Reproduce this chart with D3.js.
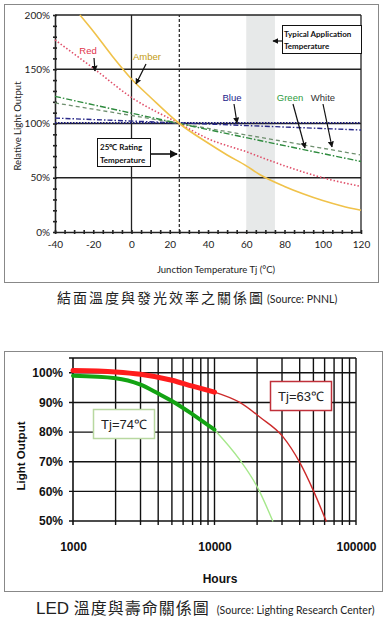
<!doctype html>
<html>
  <head>
    <meta charset="utf-8">
    <title>LED temperature charts</title>
    <script src="https://cdnjs.cloudflare.com/ajax/libs/d3/7.8.5/d3.min.js"></script>
    <style>
      body { margin: 0; background: #fff; }
      svg { display: block; }
      .lato { font-family: Lato, "Open Sans", sans-serif; }
      .narrow { font-family: "Liberation Sans Narrow", "Liberation Sans", Arial, sans-serif; font-weight: bold; }
      .cjk { font-family: "Noto Sans CJK TC", "Noto Sans CJK SC", sans-serif; }
    </style>
  </head>
  <body>
    <div id="chart"></div>
    <script>
      // ---- top chart data: relative light output (%) vs junction temperature (°C)
      const tempTicks = [-40, -20, 0, 20, 40, 60, 80, 100, 120];
      const pctTicks = [0, 50, 100, 150, 200];
      const amber = [[-27,200],[-20,185],[-10,162],[0,141],[10,124],[25,100],[40,82],[50,71],[60,61],[67,53],[80,42],[90,35],[100,29],[110,24],[120,20]];
      const red = [[-40,177],[-20,151],[0,124],[25,100],[40,86],[60,74],[80,61],[100,50],[120,42]];
      const green = [[-40,125],[25,100],[120,65]];
      const white = [[-40,119],[25,100],[120,71]];
      const blueDot = [[-40,100.5],[120,100.5]];
      const blueDash = [[-40,105],[120,94]];
      const appBand = [60, 75];
      const ratingTemp = 25;

      // ---- bottom chart data: light output (%) vs hours
      const hourTicks = [1000, 10000, 100000];
      const outTicks = [50, 60, 70, 80, 90, 100];
      const redThick = [[1000,100.8],[2000,100.3],[3000,99.5],[5000,97.5],[7000,95.5],[10000,93.5]];
      const redThin = [[10000,93.5],[15100,90],[21000,85],[30500,78.4],[40200,69.6],[49700,60.5],[61500,50]];
      const greenThick = [[1000,99],[2000,98.2],[3000,96],[4000,93],[5000,90.5],[7000,86],[10000,80.8]];
      const greenThin = [[10000,80.8],[15100,70.6],[20300,61],[25800,50]];

      const svg = d3.select('#chart').append('svg')
        .attr('width', 386).attr('height', 624);

      const defs = svg.append('defs');
      defs.append('marker').attr('id', 'arr')
        .attr('viewBox', '0 0 10 10').attr('refX', 9).attr('refY', 5)
        .attr('markerWidth', 5).attr('markerHeight', 5).attr('orient', 'auto')
        .append('path').attr('d', 'M0,0L10,5L0,10z').attr('fill', '#111');

      // ================= TOP CHART =================
      svg.append('rect').attr('x', 4.5).attr('y', 4.5).attr('width', 374).attr('height', 278)
        .attr('fill', 'none').attr('stroke', '#888').attr('stroke-width', 1);

      const x1 = d3.scaleLinear().domain([-40, 120]).range([55, 361]);
      const y1 = d3.scaleLinear().domain([0, 200]).range([232, 15]);

      const g1 = svg.append('g');

      g1.append('rect')
        .attr('x', x1(appBand[0])).attr('y', y1(200))
        .attr('width', x1(appBand[1]) - x1(appBand[0])).attr('height', y1(0) - y1(200))
        .attr('fill', '#e7e9e9');

      // grid
      g1.selectAll('.hgrid').data([50, 100, 150, 200]).join('line')
        .attr('x1', x1(-40)).attr('x2', x1(120))
        .attr('y1', d => y1(d)).attr('y2', d => y1(d))
        .attr('stroke', '#222').attr('stroke-width', 1.3);
      g1.append('line')
        .attr('x1', x1(0)).attr('x2', x1(0)).attr('y1', y1(0)).attr('y2', y1(200))
        .attr('stroke', '#222').attr('stroke-width', 1.3);
      g1.append('line')
        .attr('x1', x1(120)).attr('x2', x1(120)).attr('y1', y1(0)).attr('y2', y1(200))
        .attr('stroke', '#222').attr('stroke-width', 1.3);
      g1.append('line')
        .attr('x1', x1(ratingTemp)).attr('x2', x1(ratingTemp)).attr('y1', y1(0)).attr('y2', y1(200))
        .attr('stroke', '#222').attr('stroke-width', 1.2).attr('stroke-dasharray', '3,2');

      // axes
      const yAxis1 = g1.append('g').attr('transform', `translate(${x1(-40)},0)`)
        .call(d3.axisLeft(y1).tickValues(pctTicks).tickFormat(d => d + '%').tickSize(0).tickPadding(5));
      yAxis1.select('.domain').attr('stroke', '#222').attr('stroke-width', 1.6);
      yAxis1.selectAll('text').attr('class', 'lato').attr('font-size', 10).attr('fill', '#222');

      g1.append('g').attr('transform', `translate(${x1(-40) + 2},0)`)
        .call(d3.axisLeft(y1).tickValues(d3.range(0, 201, 10)).tickFormat('').tickSizeInner(4).tickSizeOuter(0))
        .call(g => g.select('.domain').remove())
        .selectAll('line').attr('stroke', '#222').attr('stroke-width', 1.6);

      const xAxis1 = g1.append('g').attr('transform', `translate(0,${y1(0)})`)
        .call(d3.axisBottom(x1).tickValues(tempTicks).tickFormat(d => String(d)).tickSize(0).tickPadding(9));
      xAxis1.select('.domain').attr('stroke', '#222').attr('stroke-width', 1.6);
      xAxis1.selectAll('text').attr('class', 'lato').attr('font-size', 10).attr('fill', '#222');

      g1.append('g').attr('transform', `translate(0,${y1(0) - 2})`)
        .call(d3.axisBottom(x1).tickValues(d3.range(-40, 121, 5)).tickFormat('').tickSizeInner(4).tickSizeOuter(0))
        .call(g => g.select('.domain').remove())
        .selectAll('line').attr('stroke', '#222').attr('stroke-width', 1.6);

      // series
      const line1 = d3.line().x(d => x1(d[0])).y(d => y1(d[1])).curve(d3.curveMonotoneX);
      const series1 = [
        { data: blueDot, color: '#1c1c7a', dash: '1.5,1.5', w: 1.8 },
        { data: blueDash, color: '#2a2a8a', dash: '5,2,1.5,2', w: 1.4 },
        { data: white, color: '#6f8f6f', dash: '4,3', w: 1.3 },
        { data: green, color: '#2e8b3e', dash: '6,2,1.5,2', w: 1.4 },
        { data: red, color: '#e0506a', dash: '1.5,2', w: 1.6 },
        { data: amber, color: '#f0c24a', dash: null, w: 1.6 }
      ];
      g1.selectAll('.s1').data(series1).join('path')
        .attr('d', d => line1(d.data))
        .attr('fill', 'none')
        .attr('stroke', d => d.color)
        .attr('stroke-width', d => d.w)
        .attr('stroke-dasharray', d => d.dash);

      // series labels with arrows
      const labels1 = [
        { t: 'Red', x: 88, y: 54, c: '#e0344a', ax: [94, 58, 95, 71] },
        { t: 'Amber', x: 147, y: 60, c: '#c29a10', ax: [146, 64, 136, 84] },
        { t: 'Blue', x: 232, y: 101, c: '#1c1c8a', ax: [234, 104, 237, 123] },
        { t: 'Green', x: 290, y: 101, c: '#2e9b3e', ax: [293, 104, 305, 148] },
        { t: 'White', x: 323, y: 101, c: '#333', ax: [323, 104, 332, 147] }
      ];
      labels1.forEach(l => {
        g1.append('text').attr('x', l.x).attr('y', l.y).attr('text-anchor', 'middle')
          .style('font-family', '"Liberation Sans Narrow", "Liberation Sans", Arial, sans-serif')
          .style('font-size', '9.5px')
          .attr('fill', l.c).text(l.t);
        g1.append('line').attr('x1', l.ax[0]).attr('y1', l.ax[1]).attr('x2', l.ax[2]).attr('y2', l.ax[3])
          .attr('stroke', '#111').attr('stroke-width', 1.2).attr('marker-end', 'url(#arr)');
      });

      // annotation boxes
      g1.append('rect').attr('x', 282.5).attr('y', 25.5).attr('width', 79).attr('height', 28)
        .attr('fill', '#fff').attr('stroke', '#111').attr('stroke-width', 1);
      g1.append('text').attr('x', 284).attr('y', 37).attr('class', 'lato')
        .attr('font-size', 8).attr('font-weight', 'bold').attr('fill', '#111').text('Typical Application');
      g1.append('text').attr('x', 284).attr('y', 49).attr('class', 'lato')
        .attr('font-size', 8).attr('font-weight', 'bold').attr('fill', '#111').text('Temperature');
      g1.append('line').attr('x1', 282).attr('y1', 41).attr('x2', 273).attr('y2', 41)
        .attr('stroke', '#111').attr('stroke-width', 1.2).attr('marker-end', 'url(#arr)');

      g1.append('rect').attr('x', 97.5).attr('y', 138.5).attr('width', 53).attr('height', 28)
        .attr('fill', '#fff').attr('stroke', '#111').attr('stroke-width', 1);
      g1.append('text').attr('x', 100).attr('y', 150).attr('class', 'lato')
        .attr('font-size', 8).attr('font-weight', 'bold').attr('fill', '#111').text('25℃  Rating');
      g1.append('text').attr('x', 100).attr('y', 163).attr('class', 'lato')
        .attr('font-size', 8).attr('font-weight', 'bold').attr('fill', '#111').text('Temperature');
      g1.append('line').attr('x1', 151).attr('y1', 154).attr('x2', 177).attr('y2', 154)
        .attr('stroke', '#111').attr('stroke-width', 1.6).attr('marker-end', 'url(#arr)');

      // axis titles
      g1.append('text').attr('transform', 'translate(21,126) rotate(-90)').attr('text-anchor', 'middle')
        .attr('class', 'lato').attr('font-size', 9.5).attr('fill', '#222').text('Relative Light Output');
      g1.append('text').attr('x', 216).attr('y', 273).attr('text-anchor', 'middle')
        .attr('class', 'lato').attr('font-size', 9.5).attr('fill', '#222').text('Junction Temperature Tj (°C)');

      // caption 1
      const cap1 = svg.append('text').attr('x', 57).attr('y', 303).attr('fill', '#222');
      cap1.append('tspan').attr('class', 'cjk').attr('font-size', 14).attr('letter-spacing', 2)
        .text('結面溫度與發光效率之關係圖');
      cap1.append('tspan').attr('class', 'lato').attr('font-size', 10.5).attr('dx', 2).text('(Source: PNNL)');

      // ================= BOTTOM CHART =================
      svg.append('rect').attr('x', 4.5).attr('y', 351.5).attr('width', 378).attr('height', 240)
        .attr('fill', 'none').attr('stroke', '#888').attr('stroke-width', 1);

      const x2 = d3.scaleLog().domain([1000, 100000]).range([73, 356]);
      const y2 = d3.scaleLinear().domain([50, 105]).range([521, 358]);
      const g2 = svg.append('g');

      // vertical grid every 1000s / 10000s
      const vGrid = d3.range(2000, 10001, 1000).concat(d3.range(20000, 100001, 10000));
      g2.selectAll('.vgrid').data(vGrid).join('line')
        .attr('x1', d => x2(d)).attr('x2', d => x2(d))
        .attr('y1', y2(105)).attr('y2', y2(50) + 4)
        .attr('stroke', '#111').attr('stroke-width', 1.4);
      g2.selectAll('.hgrid').data(outTicks.concat([105])).join('line')
        .attr('x1', x2(1000) - 4).attr('x2', x2(100000))
        .attr('y1', d => y2(d)).attr('y2', d => y2(d))
        .attr('stroke', '#111').attr('stroke-width', 1.4);
      g2.append('line').attr('x1', x2(1000)).attr('x2', x2(1000))
        .attr('y1', y2(105)).attr('y2', y2(50) + 4)
        .attr('stroke', '#111').attr('stroke-width', 1.6);

      const yAxis2 = g2.append('g').attr('transform', `translate(${x2(1000)},0)`)
        .call(d3.axisLeft(y2).tickValues(outTicks).tickFormat(d => d + '%').tickSize(0).tickPadding(10));
      yAxis2.select('.domain').remove();
      yAxis2.selectAll('text').attr('class', 'narrow').attr('font-size', 12).attr('fill', '#111');

      const xAxis2 = g2.append('g').attr('transform', `translate(0,${y2(50)})`)
        .call(d3.axisBottom(x2).tickValues(hourTicks).tickFormat(d3.format('d')).tickSize(0).tickPadding(21));
      xAxis2.select('.domain').remove();
      xAxis2.selectAll('text').attr('class', 'narrow').attr('font-size', 12).attr('fill', '#111');

      const line2 = d3.line().x(d => x2(d[0])).y(d => y2(d[1])).curve(d3.curveMonotoneX);
      const series2 = [
        { data: redThin, color: '#cc2a2a', w: 1.4 },
        { data: greenThin, color: '#a6e88c', w: 1.4 },
        { data: redThick, color: '#ff1c1c', w: 5 },
        { data: greenThick, color: '#13a313', w: 4 }
      ];
      g2.selectAll('.s2').data(series2).join('path')
        .attr('d', d => line2(d.data))
        .attr('fill', 'none')
        .attr('stroke', d => d.color)
        .attr('stroke-width', d => d.w)
        .attr('stroke-linecap', 'round');

      // Tj boxes
      g2.append('rect').attr('x', 270.5).attr('y', 381.5).attr('width', 61).attr('height', 29)
        .attr('fill', '#fff').attr('stroke', '#c0303a').attr('stroke-width', 1.5);
      g2.append('text').attr('x', 301).attr('y', 401).attr('text-anchor', 'middle')
        .attr('font-family', 'Liberation Sans, Arial, sans-serif').attr('font-size', 13).attr('fill', '#222').text('Tj=63℃');
      g2.append('rect').attr('x', 93.5).attr('y', 409.5).attr('width', 61).attr('height', 29)
        .attr('fill', '#fff').attr('stroke', '#b8d8a0').attr('stroke-width', 1.5);
      g2.append('text').attr('x', 124).attr('y', 429).attr('text-anchor', 'middle')
        .attr('font-family', 'Liberation Sans, Arial, sans-serif').attr('font-size', 13).attr('fill', '#222').text('Tj=74℃');

      // axis titles
      g2.append('text').attr('transform', 'translate(25,456) rotate(-90)').attr('text-anchor', 'middle')
        .attr('class', 'narrow').attr('font-size', 11.5).attr('fill', '#111').text('Light Output');
      g2.append('text').attr('x', 220).attr('y', 583).attr('text-anchor', 'middle')
        .attr('class', 'narrow').attr('font-size', 12).attr('fill', '#111').text('Hours');

      // caption 2
      const cap2 = svg.append('text').attr('x', 36).attr('y', 614).attr('fill', '#222');
      cap2.append('tspan').attr('font-family', 'Liberation Sans, Arial, sans-serif').attr('font-size', 17).text('LED ');
      cap2.append('tspan').attr('class', 'cjk').attr('font-size', 16).attr('letter-spacing', 1).text('溫度與壽命關係圖');
      cap2.append('tspan').attr('class', 'lato').attr('font-size', 10.5).attr('dx', 7).text('(Source: Lighting Research Center)');
    </script>
  </body>
</html>
